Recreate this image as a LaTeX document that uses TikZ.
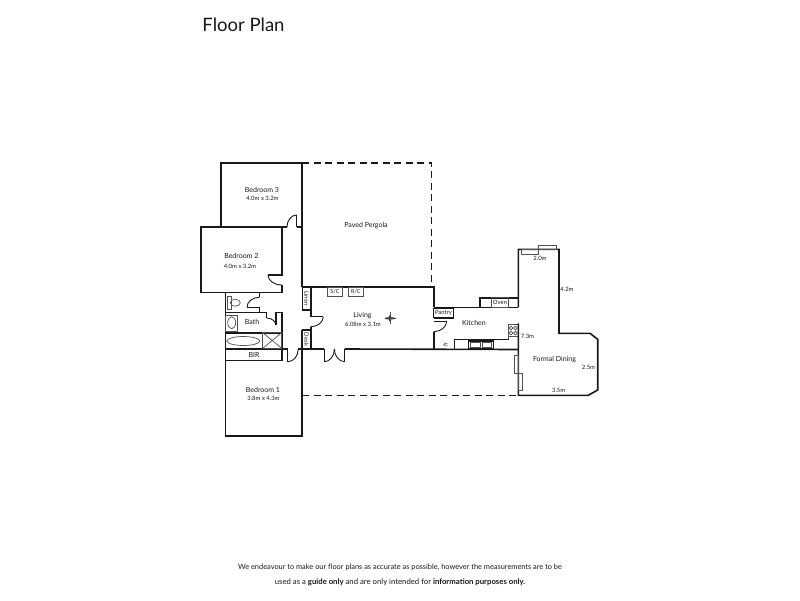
\documentclass[tikz,border=0pt]{standalone}
\usepackage{fontspec}
\setmainfont{Lato}
\usetikzlibrary{calc}
\definecolor{ink}{RGB}{25,25,25}
\newcommand{\doorarc}[3]{\draw[doorline] (#1) .. controls ($(#1)!.55!(#2)$) and ($(#3)!.55!(#2)$) .. (#3);}
\tikzset{
  wall/.style={draw=ink,line width=1.6pt,line cap=square,line join=miter},
  thinwall/.style={draw=ink,line width=0.8pt},
  doorline/.style={draw=ink,line width=0.9pt},
  fixture/.style={draw=ink!75,line width=0.7pt},
  dashwall/.style={draw=ink,line width=1.6pt,dash pattern=on 7pt off 4.5pt},
  lbl/.style={font=\fontsize{7}{8}\selectfont,text=ink,inner sep=0pt},
  dim/.style={font=\fontsize{5.9}{7}\selectfont,text=ink,inner sep=0pt},
  foot/.style={font=\fontsize{7.4}{9}\selectfont,text=ink,inner sep=0pt}
}
\begin{document}
\begin{tikzpicture}[x=1pt,y=-1pt]
\useasboundingbox (0,0) rectangle (800,600);
\fill[white] (0,0) rectangle (800,600);
% title
\node[font=\fontsize{18.5}{22}\selectfont,text=ink,inner sep=0pt] (title) at (243.5,25) {Floor Plan};
% dashed pergola
\draw[dashwall] (302,162.7) -- (431.3,162.7) -- (431.3,286.7);
\draw[dashwall] (302,395.3) -- (518.3,395.3);
% bedroom 3
\draw[wall] (221,227) -- (221,162.7) -- (302,162.7) -- (302,286.7);
\draw[wall] (297,227) -- (302,227);
\draw[doorline] (296.7,227) -- (296.7,215);
\doorarc{296.7,215}{287,215}{287,227}
% bedroom 2
\draw[wall] (287,227) -- (201,227) -- (201,292.5) -- (281.7,292.5) -- (281.7,285);
\draw[wall] (281.7,227) -- (281.7,275) -- (268,275);
\doorarc{268,275}{268,285}{281.7,285}
% wc / bath
\draw[wall] (225.3,292.5) -- (225.3,436) -- (302,436) -- (302,330);
\draw[wall] (259.3,292.5) -- (259.3,297.3);
\draw[wall] (247,307.3) -- (259.3,307.3) -- (259.3,312.3);
\doorarc{259.3,297.3}{247,297.3}{247,307.3}
\draw[wall] (225.3,312.3) -- (266.7,312.3);
\draw[doorline] (266.7,312.3) -- (266.7,318);
\doorarc{266.7,318}{275.7,318}{275.7,325}
\draw[wall] (275.7,325) -- (275.7,312.3) -- (281.7,312.3) -- (281.7,361);
\draw[wall] (225.3,332.7) -- (281.7,332.7);
\draw[wall,line width=2pt] (225.3,349) -- (287.7,349);
\draw[thinwall] (225.3,360.7) -- (281.7,360.7);
% fixtures
\draw[fixture] (225.3,315) rectangle (237,331.7);
\draw[fixture] (231.7,322.7) ellipse [x radius=4,y radius=6];
\draw[fixture] (227.3,296.7) rectangle (231,309.3);
\draw[fixture] (235.3,302.7) ellipse [x radius=5,y radius=3.5];
\draw[fixture] (243.3,341) ellipse [x radius=16.5,y radius=4.5];
\draw[fixture] (262.7,332.7) rectangle (281.7,348.3);
\draw[fixture] (262.7,332.7) -- (281.7,348.3) (262.7,348.3) -- (281.7,332.7);
% bedroom 1 door
\draw[doorline] (287.7,349) -- (287.7,361.7);
\doorarc{287.7,361.7}{298.3,361.7}{298.3,349}
% living
\draw[wall] (298.3,349) -- (324.3,349);
\draw[wall] (344.7,349) -- (518.3,349.5);
\draw[wall] (302,286.7) -- (433.7,286.7) -- (433.7,306.7);
\draw[wall] (310.7,286.7) -- (310.7,316.7);
\draw[doorline] (310.7,316.7) -- (323.3,316.7);
\doorarc{323.3,316.7}{323.3,326.7}{310.7,326.7}
\draw[wall] (310.7,326.7) -- (310.7,349);
\draw[thinwall] (302,286.7) rectangle (310.7,310);
\draw[wall] (302,310) -- (310.7,310);
\draw[wall] (302,330) -- (310.7,330);
% french doors
\draw[doorline] (324.3,349) -- (324.3,361.7);
\doorarc{324.3,361.7}{334.4,361.7}{334.4,349}
\draw[doorline] (344.7,349) -- (344.7,361.7);
\doorarc{344.7,361.7}{334.4,361.7}{334.4,349}
% appliances in living
\draw[fixture] (327.5,287) rectangle (342.5,296.5);
\draw[fixture] (348.5,287) rectangle (363.5,296.5);
% fan
\draw[fixture,line width=0.9pt] (390,312) -- (390,323.5);
\draw[fixture,line width=0.9pt] (384.5,318.3) -- (396,318.3);
\fill[ink!80] (390,318.3) ellipse [x radius=5.5,y radius=1.3];
\fill[ink!80] (390,318.3) ellipse [x radius=1.3,y radius=3.5];
% kitchen
\draw[wall] (433.7,331.7) -- (433.7,349);
\draw[doorline] (433.7,321) -- (446.7,321);
\doorarc{446.7,321}{446.7,331.7}{433.7,331.7}
\draw[wall] (433.7,307.3) -- (480,307.3) -- (480,297.7) -- (518.3,297.7);
\draw[wall] (480,307.3) -- (518.3,307.3);
\draw[thinwall] (433.7,308.3) rectangle (453.3,317.3);
\draw[wall] (433.7,317.8) -- (453.3,317.8) -- (453.3,308.3);
\draw[fixture] (491.7,297.7) rectangle (508.3,307.3);
% bench
\draw[thinwall] (454.3,349) -- (454.3,339) -- (508.3,339) -- (508.3,324) -- (518.3,324);
\draw[fixture] (508.3,324) rectangle (518.3,336.7);
\draw[fixture] (508.3,336.7) -- (508.3,339);
\foreach \px/\py [count=\i] in {511/328,515.5/328,511/333,515.5/333}{
  \draw[fixture] (\px,\py) circle [radius=1.8];
}
\draw[thinwall,line width=1.1pt] (468.3,341) rectangle (493.3,348.3);
\draw[fixture] (470,342.5) rectangle (480,347);
\draw[fixture] (482,342.5) rectangle (491.8,347);
% formal dining
\draw[wall] (518.3,307.3) -- (518.3,249.3) -- (559,249.3) -- (559,333.3) -- (590,333.3) -- (597.7,339.3) -- (597.7,390) -- (588.3,395.3) -- (518.3,395.3) -- (518.3,323.3);
\draw[fixture] (521.7,249.8) rectangle (538.3,254);
\draw[fixture] (538.3,245.7) rectangle (556.7,249.3);
\draw[fixture] (514,355.7) rectangle (518.3,373.3);
\draw[fixture] (518.3,373.3) rectangle (522.3,390.7);
% labels
\node[lbl] (b3) at (262,190.3) {Bedroom 3};
\node[dim] (b3d) at (262.5,198.7) {4.0m x 3.2m};
\node[lbl] (pp) at (366,226) {Paved Pergola};
\node[lbl] (b2) at (241.3,255.5) {Bedroom 2};
\node[dim] (b2d) at (240,266) {4.0m x 3.2m};
\node[lbl] (bath) at (252,322) {Bath};
\node[lbl] (bir) at (254,354.7) {BIR};
\node[lbl] (b1) at (263,390) {Bedroom 1};
\node[dim] (b1d) at (263.5,398) {3.8m x 4.3m};
\node[lbl] (liv) at (362.5,316) {Living};
\node[dim] (livd) at (363,324.5) {6.08m x 3.1m};
\node[lbl] (kit) at (474,322.5) {Kitchen};
\node[lbl] (fd) at (554.5,359.5) {Formal Dining};
\node[dim,font=\fontsize{5.5}{6}\selectfont] (sc) at (335,291.8) {S/C};
\node[dim,font=\fontsize{5.5}{6}\selectfont] (rc) at (356,291.8) {R/C};
\node[dim,rotate=-90] (linen) at (306.4,298.5) {Linen};
\node[dim,rotate=-90] (desk) at (306.4,339.5) {Desk};
\node[dim] (pantry) at (443.5,312.8) {Pantry};
\node[dim] (oven) at (500,302.5) {Oven};
\node[dim,rotate=90] (fr) at (445.5,344.3) {fr};
\node[dim] (d1) at (540,258.7) {2.0m};
\node[dim] (d2) at (567,289.3) {4.2m};
\node[dim] (d3) at (527.5,336.7) {7.3m};
\node[dim] (d4) at (588.5,367.5) {2.5m};
\node[dim] (d5) at (558.7,390) {3.5m};
\node[foot] (f1) at (400,567.5) {We endeavour to make our floor plans as accurate as possible, however the measurements are to be};
\node[foot,font=\fontsize{7.75}{9}\selectfont] (f2) at (400,582.7) {used as a \textbf{guide only} and are only intended for \textbf{information purposes only.}};
\end{tikzpicture}
\end{document}
